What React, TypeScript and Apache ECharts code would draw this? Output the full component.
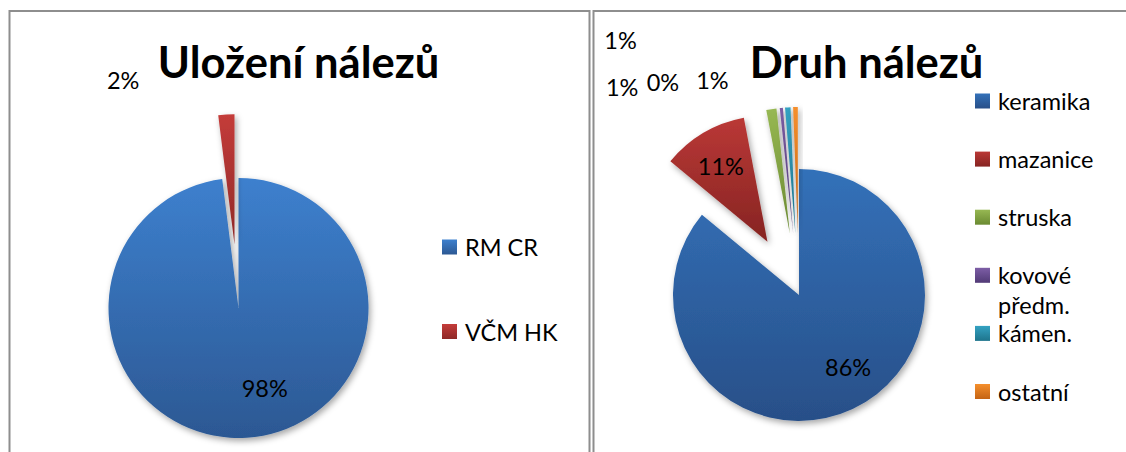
import React, { useEffect, useRef } from 'react';
import * as echarts from 'echarts';

// ---------- data ----------
const storageTitle = 'Uložení nálezů';
const storageNames = ['RM CR', 'VČM HK'];
const storageValues = [98, 2];

const kindTitle = 'Druh nálezů';
const kindNames = ['keramika', 'mazanice', 'struska', 'kovové předm.', 'kámen.', 'ostatní'];
const kindValues = [86.0, 11.0, 1.3, 0.4, 0.7, 0.6];

// ---------- styles ----------
const FONT = 'Lato, "Noto Sans", sans-serif';
const storageGradients: [string, string][] = [
  ['#3d80ce', '#2c5893'],
  ['#c43c3a', '#8f2927'],
];
const kindGradients: [string, string][] = [
  ['#3371b9', '#284f88'],
  ['#ba3836', '#862422'],
  ['#97b853', '#6a8a31'],
  ['#7d5ea6', '#513a76'],
  ['#34a2c2', '#1e748c'],
  ['#f58f2d', '#c46414'],
];
const storageExploded = [false, true];
const kindExploded = [false, true, true, true, true, true];
const storageLabelShift = [[22, 12], [-107, -96]];
const kindLabelShift = [[21, 12], [-13, -19], [-158, -81], [-124, -86], [-79, -87], [-176, -127]];

// right legend layout: marker centre of first row and row pitch
const kindLegendFirst = 101;
const kindLegendPitch = 58.1;
const legendLine = 26;
const wrapLine = 30;

function grad(pair: [string, string]) {
  return new echarts.graphic.LinearGradient(0, 0, 0, 1, [
    { offset: 0, color: pair[0] },
    { offset: 1, color: pair[1] },
  ]);
}

const shadow = {
  shadowBlur: 6,
  shadowOffsetX: 2,
  shadowOffsetY: 3,
  shadowColor: 'rgba(0,0,0,0.35)',
};

function pctLabel(p: any) {
  return Math.round(p.percent) + '%';
}

const labelStyle = {
  show: true, position: 'inside', formatter: pctLabel,
  fontSize: 23.5, fontFamily: FONT, color: '#000',
};

const legendText = { fontSize: 23.5, fontFamily: FONT, color: '#000', padding: [0, 0, 0, 3] };

function kindLegend(name: string, i: number) {
  const centre = kindLegendFirst + i * kindLegendPitch;
  const wraps = name.indexOf(' ') >= 0;
  const half = wraps ? (wrapLine * 3) / 2 : legendLine / 2;
  return {
    orient: 'vertical', left: 970, top: centre - half - 5,
    icon: 'rect', itemWidth: 15, itemHeight: 15,
    selectedMode: false,
    formatter: (n: string) => (n.indexOf(' ') >= 0 ? '\n' + n.split(' ').join('\n') : n),
    textStyle: { ...legendText, lineHeight: wraps ? wrapLine : legendLine },
    data: [name],
  };
}

export default function App() {
  const ref = useRef<HTMLDivElement>(null);
  useEffect(() => {
    if (!ref.current) return;
    const chart = echarts.init(ref.current, undefined, { renderer: 'svg' });
    const option: any = {
      animation: false,
      backgroundColor: '#ffffff',
      graphic: [
        {
          type: 'rect', z: 0, silent: true,
          shape: { x: 9.5, y: 11, width: 580, height: 470 },
          style: { fill: 'none', stroke: '#8e8e8e', lineWidth: 2 },
        },
        {
          type: 'rect', z: 0, silent: true,
          shape: { x: 593.5, y: 11, width: 600, height: 470 },
          style: { fill: 'none', stroke: '#8e8e8e', lineWidth: 2 },
        },
        {
          type: 'text', x: 298.5, y: 61, silent: true,
          style: {
            text: storageTitle, fontSize: 43.5, fontWeight: 'bold', fontFamily: FONT,
            fill: '#000', align: 'center', verticalAlign: 'middle',
          },
        },
        {
          type: 'text', x: 866.5, y: 61, silent: true,
          style: {
            text: kindTitle, fontSize: 43.5, fontWeight: 'bold', fontFamily: FONT,
            fill: '#000', align: 'center', verticalAlign: 'middle',
          },
        },
      ],
      legend: [
        {
          orient: 'vertical', left: 437, top: 227,
          icon: 'rect', itemWidth: 15, itemHeight: 15, itemGap: 54.5,
          selectedMode: false,
          textStyle: { ...legendText, lineHeight: 30 },
          data: storageNames,
        },
        ...kindNames.map((n, i) => kindLegend(n, i)),
      ],
      series: [
        {
          type: 'pie',
          center: [238.5, 308],
          radius: 130,
          startAngle: 90,
          clockwise: true,
          selectedMode: 'multiple',
          selectedOffset: 64,
          avoidLabelOverlap: false,
          emphasis: { disabled: true },
          label: labelStyle,
          labelLine: { show: false },
          labelLayout: (p: any) => ({ dx: storageLabelShift[p.dataIndex][0], dy: storageLabelShift[p.dataIndex][1] }),
          itemStyle: { ...shadow },
          data: storageNames.map((n, i) => ({
            name: n, value: storageValues[i], selected: storageExploded[i],
            itemStyle: { color: grad(storageGradients[i]) },
          })),
        },
        {
          type: 'pie',
          center: [799, 295],
          radius: 126,
          startAngle: 90,
          clockwise: true,
          selectedMode: 'multiple',
          selectedOffset: 62,
          avoidLabelOverlap: false,
          emphasis: { disabled: true },
          label: labelStyle,
          labelLine: { show: false },
          labelLayout: (p: any) => ({ dx: kindLabelShift[p.dataIndex][0], dy: kindLabelShift[p.dataIndex][1] }),
          itemStyle: { ...shadow },
          data: kindNames.map((n, i) => ({
            name: n, value: kindValues[i], selected: kindExploded[i],
            itemStyle: { color: grad(kindGradients[i]) },
          })),
        },
      ],
    };
    chart.setOption(option);
    return () => chart.dispose();
  }, []);
  return (
    <div
      ref={ref}
      style={{ position: 'fixed', left: 0, top: 0, width: 1126, height: 452, background: '#fff' }}
    />
  );
}
